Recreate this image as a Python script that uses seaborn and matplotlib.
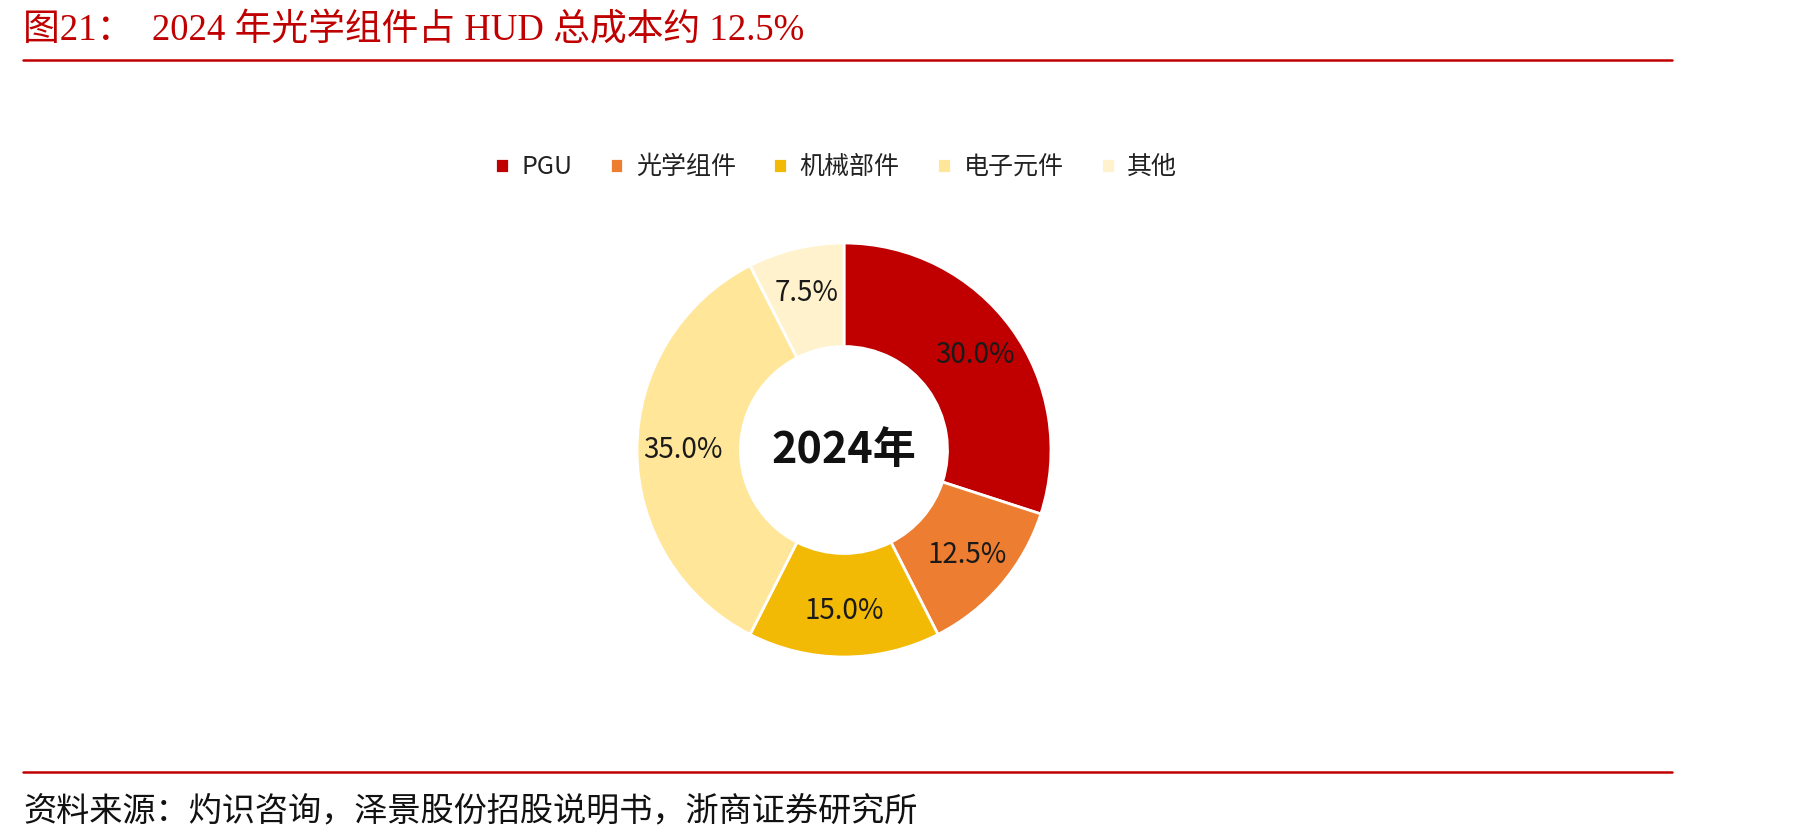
import matplotlib
matplotlib.use('Agg')
import matplotlib.pyplot as plt
import seaborn as sns

# Data
parts = ['PGU', '光学组件', '机械部件', '电子元件', '其他']
shares = [30.0, 12.5, 15.0, 35.0, 7.5]
part_colors = ['#C00000', '#ED7D31', '#F2BA05', '#FFE699', '#FFF2CC']
center_label = '2024年'
title_text = '图21：  2024 年光学组件占 HUD 总成本约 12.5%'
source_text = '资料来源：灼识咨询，泽景股份招股说明书，浙商证券研究所'

sns.set_theme(style='white')
plt.rcParams['font.family'] = ['Noto Sans CJK SC', 'DejaVu Sans']

red = '#C00000'
fig = plt.figure(figsize=(17.98, 8.4), dpi=100)

# Donut axes: square box of 414 px centred at (844, 450) from top-left
W, H = 1798, 840
cx, cy, r = 844, 450, 207
ax = fig.add_axes([(cx - r) / W, (H - cy - r) / H, 2 * r / W, 2 * r / H])

pal = sns.color_palette(part_colors)
wedges, texts, autotexts = ax.pie(
    shares, colors=pal, startangle=90, counterclock=False, radius=1,
    wedgeprops=dict(width=0.5, edgecolor='white', linewidth=2),
    autopct=lambda p: f'{p:.1f}%', pctdistance=0.78)
for t in autotexts:
    t.set_fontsize(20)
    t.set_color('#1a1a1a')
ax.set_xlim(-1, 1)
ax.set_ylim(-1, 1)
ax.set_aspect('equal')
ax.axis('off')

ax.text(0, 0, center_label, ha='center', va='center', fontsize=31,
        fontweight='bold', color='#111111')

# Legend across the top
leg = fig.legend(wedges, parts, loc='center', bbox_to_anchor=(0.465, 0.801),
                 ncol=5, frameon=False, fontsize=18, handlelength=0.55,
                 handleheight=0.55, handletextpad=0.5, columnspacing=1.5)
for txt in leg.get_texts():
    txt.set_color('#222222')

# Title and rules
fig.text(0.0128, 0.964, title_text, ha='left', va='center', fontsize=26.5,
         color=red, family=['Liberation Serif', 'Noto Sans CJK SC'])
fig.add_artist(plt.Line2D([0.0128, 0.930], [0.929, 0.929], color=red,
                          linewidth=1.8, transform=fig.transFigure))
fig.add_artist(plt.Line2D([0.0128, 0.930], [0.081, 0.081], color=red,
                          linewidth=1.8, transform=fig.transFigure))

# Source note
fig.text(0.0128, 0.035, source_text, ha='left', va='center', fontsize=23.9,
         color='#111111')

plt.savefig('out.png', dpi=100, facecolor='white')
plt.close()
